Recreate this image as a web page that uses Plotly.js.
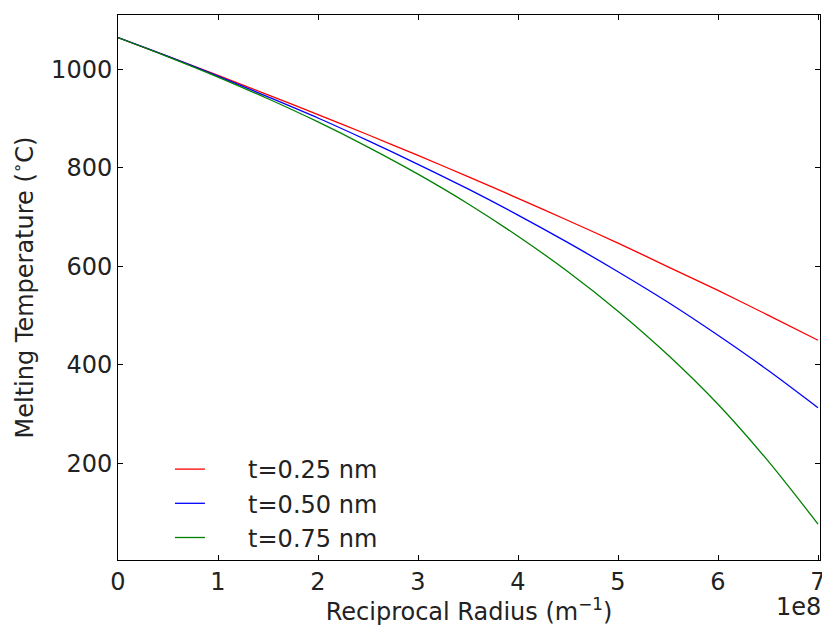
<!DOCTYPE html>
<html>
<head>
<meta charset="utf-8">
<script src="https://cdn.plot.ly/plotly-3.0.1.min.js"></script>
<style>html,body{margin:0;padding:0;background:#fff;}#chart{width:822px;height:626px;}</style>
</head>
<body>
<div id="chart"></div>
<script>
// Reciprocal radius (units of 1e8 m^-1)
const recipRadius = [0, 0.5, 1, 1.5, 2, 2.5, 3, 3.5, 4, 4.5, 5, 5.5, 6, 6.5, 7];
// Melting temperature (°C)
const temp025 = [1064, 1026, 987.5, 948, 908, 867, 825, 782, 738, 693, 647, 599, 551, 501, 450];
const temp050 = [1064, 1026, 986, 944, 901, 855, 807, 757, 704, 648, 589, 527, 460, 389, 313];
const temp075 = [1064, 1025, 984, 940, 893, 842, 787, 727, 661, 589, 509, 420, 320, 205, 77];
const seriesNames = ['t=0.25 nm', 't=0.50 nm', 't=0.75 nm'];
const seriesColors = ['#ff0000', '#0000ff', '#008000'];
const xTicks = [0, 1, 2, 3, 4, 5, 6, 7];
const yTicks = [200, 400, 600, 800, 1000];

const font = 'DejaVu Sans, sans-serif';
const fs = 24;
const series = [temp025, temp050, temp075];
const traces = series.map((ys, i) => ({
  x: recipRadius, y: ys, type: 'scatter', mode: 'lines',
  name: '\u00a0\u00a0\u00a0\u00a0\u00a0' + seriesNames[i],
  line: {color: seriesColors[i], width: 1.3, shape: 'spline', smoothing: 0.8}
}));

const axisCommon = {
  showline: true, linecolor: '#000', linewidth: 1, mirror: 'ticks',
  ticks: 'inside', ticklen: 5, tickcolor: '#000', tickwidth: 1,
  showgrid: false, zeroline: false, ticklabeloverflow: 'allow',
  tickfont: {family: font, size: fs, color: '#222'}
};

const layout = {
  width: 822, height: 626,
  margin: {l: 118, r: 2, t: 15, b: 66},
  paper_bgcolor: '#fff', plot_bgcolor: '#fff',
  showlegend: true,
  legend: {x: 0.074, y: 0.0, xanchor: 'left', yanchor: 'bottom',
           bgcolor: 'rgba(0,0,0,0)', font: {family: font, size: fs, color: '#222'},
           tracegroupgap: 0},
  xaxis: Object.assign({}, axisCommon, {
    range: [0, 7.02], tickvals: xTicks, ticktext: xTicks.map(String),
    title: {text: 'Reciprocal Radius (m<sup>−1</sup>)', font: {family: font, size: fs, color: '#222'}, standoff: 2}
  }),
  yaxis: Object.assign({}, axisCommon, {
    range: [4, 1110], tickvals: yTicks, ticktext: yTicks.map(String),
    title: {text: 'Melting Temperature (<sup>∘</sup>C)', font: {family: font, size: fs, color: '#222'}, standoff: 10}
  }),
  annotations: [{
    text: '1e8', xref: 'paper', yref: 'paper', x: 1, y: 0,
    xanchor: 'right', yanchor: 'top', yshift: -31, xshift: 3, showarrow: false,
    font: {family: font, size: fs, color: '#222'}
  }]
};

Plotly.newPlot('chart', traces, layout, {displayModeBar: false, staticPlot: true});
</script>
</body>
</html>
